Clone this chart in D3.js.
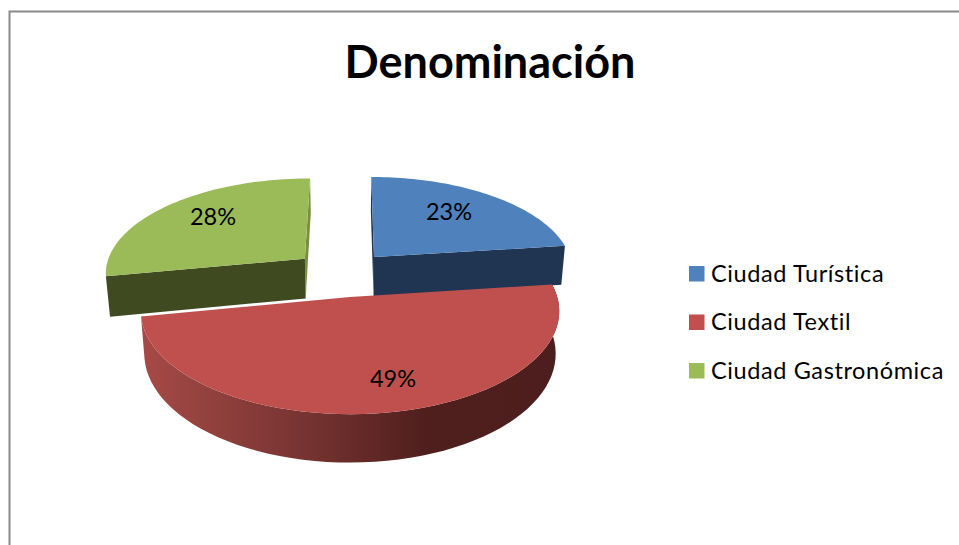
<!DOCTYPE html>
<html><head><meta charset="utf-8">
<script src="https://cdn.jsdelivr.net/npm/d3@7"></script>
<style>html,body{margin:0;padding:0;background:#fff}svg{display:block}text{font-family:Lato,sans-serif;fill:#000}</style>
</head><body><div id="c"></div>
<script>
const title = "Denominación";
const categories = ["Ciudad Turística", "Ciudad Textil", "Ciudad Gastronómica"];
const values = [23, 49, 28];
const labels = ["23%", "49%", "28%"];
const topColors = ["#4f81bd", "#c0504d", "#9bbb59"];
const wallColors = ["#1f3552", "#4c1e1d", "#3f4a20"];

const W = 959, H = 545;
// layout of the exploded 3D pie
const vx = 350, vy = 257, S = 90.4, P = 0.13, R = 196, DEPTH = 39.5, CONVERGE = 0.983;
const explode = [{x: 24, v: 0}, {x: 0, v: 0.418}, {x: -45, v: 0.02}];
const labelAt = [[449, 220], [393, 387], [213, 225]];

const svg = d3.select("#c").append("svg").attr("width", W).attr("height", H);
const defs = svg.append("defs");
const grad = defs.append("linearGradient").attr("id", "redWall")
  .attr("gradientUnits", "userSpaceOnUse").attr("x1", 141).attr("x2", 560).attr("y1", 0).attr("y2", 0);
[[0, "#a64a47"], [0.35, "#7c3634"], [0.68, "#4f1f1d"], [1, "#4c1e1d"]].forEach(([o, c]) =>
  grad.append("stop").attr("offset", o).attr("stop-color", c));

svg.append("rect").attr("x", 9.5).attr("y", 11.5).attr("width", W + 20).attr("height", H + 20)
  .attr("fill", "#fff").attr("stroke", "#8a8a8a").attr("stroke-width", 2);

svg.append("text").attr("x", 490).attr("y", 78).attr("text-anchor", "middle")
  .attr("font-size", 45).attr("font-weight", 700).text(title);

function project(u, v, ex, bottom) {
  const V = ex.v + v, d = 1 / (1 - P * V);
  let x = vx + (ex.x + R * u) * d, y = vy + S * V * d;
  if (bottom) { x = vx + (x - vx) * CONVERGE; y += DEPTH * d; }
  return [x, y];
}
const pie = d3.pie().sort(null).value(d => d);
const arcs = pie(values);
const line = d3.line();
const rim = (a0, a1, ex, bottom) => d3.range(0, 61).map(i => {
  const a = d3.interpolateNumber(a0, a1)(i / 60);
  return project(Math.sin(a), -Math.cos(a), ex, bottom);
});

// paint back to front: gastronomic, tourist, textile
[2, 0, 1].forEach(i => {
  const arc = arcs[i], ex = explode[i];
  const g = svg.append("g");
  const wall = i === 1 ? "url(#redWall)" : wallColors[i];
  const apexT = project(0, 0, ex, false), apexB = project(0, 0, ex, true);
  const top = rim(arc.startAngle, arc.endAngle, ex, false);
  const bot = rim(arc.startAngle, arc.endAngle, ex, true);
  // radial walls
  if (i === 0) g.append("path").attr("d", line([apexT, top[0], bot[0], apexB]) + "Z").attr("fill", wallColors[0]);
  if (i === 2) g.append("path").attr("d", line([apexT, top[60], bot[60], apexB]) + "Z").attr("fill", "#77903f");
  // front faces
  if (i === 1) {
    g.append("path").attr("d", line(top.concat(bot.slice().reverse())) + "Z").attr("fill", wall);
  } else if (i === 0) {
    g.append("path").attr("d", line([apexT, top[60], bot[60], apexB]) + "Z").attr("fill", wall);
  } else {
    g.append("path").attr("d", line([apexT, top[0], bot[0], apexB]) + "Z").attr("fill", wall);
  }
  g.append("path").attr("d", line([apexT].concat(top)) + "Z").attr("fill", topColors[i]);
});

labels.forEach((t, i) => svg.append("text").attr("x", labelAt[i][0]).attr("y", labelAt[i][1])
  .attr("text-anchor", "middle").attr("font-size", 23.5).text(t));

const legendY = d3.scalePoint().domain(categories).range([273.5, 370.5]);
const lg = svg.append("g").selectAll("g").data(categories).join("g")
  .attr("transform", d => `translate(689,${legendY(d)})`);
lg.append("rect").attr("x", 0).attr("y", -7.5).attr("width", 15.5).attr("height", 15.5)
  .attr("fill", (d, i) => topColors[i]);
lg.append("text").attr("x", 22).attr("y", 8).attr("font-size", 23.5).attr("letter-spacing", 0.6).text(d => d);
</script></body></html>
